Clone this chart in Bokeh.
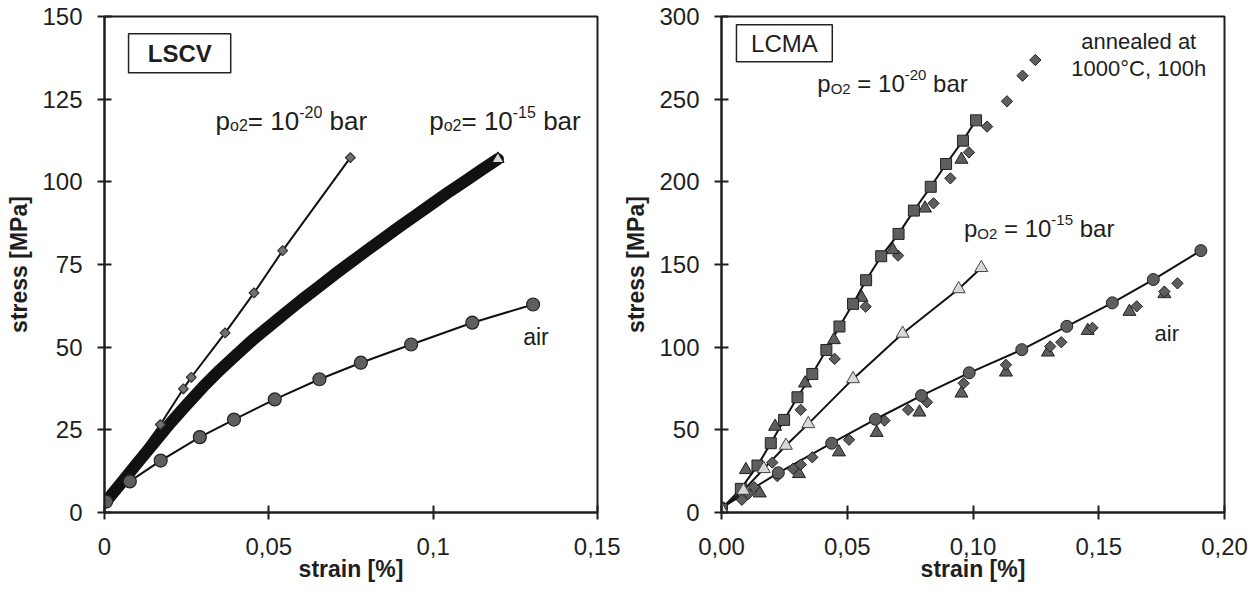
import math
from bokeh.plotting import figure
from bokeh.layouts import row
from bokeh.models import Range1d, FixedTicker, Label, BoxAnnotation
from bokeh.embed import file_html
from bokeh.resources import INLINE

FONT = "Liberation Sans"
TXT = "#1e1e1e"
DARK = "#5e5e5e"
LIGHT = "#d8d8d8"
BASE_FIX = 7  # screen px raise for alphabetic-baseline labels

# ---------------- LSCV (left) ----------------
lscv_x_ticks = [0, 0.05, 0.1, 0.15]
lscv_x_labels = ["0", "0,05", "0,1", "0,15"]
lscv_y_ticks = [0, 25, 50, 75, 100, 125, 150]

lscv_p20_strain = [0.0, 0.017, 0.024, 0.0264, 0.0367, 0.0455, 0.0542, 0.0748]
lscv_p20_stress = [3.0, 26.6, 37.4, 40.9, 54.3, 66.4, 79.2, 107.3]

lscv_p15_strain = [0.0003, 0.005, 0.01, 0.015, 0.02, 0.025, 0.03, 0.035, 0.04, 0.045,
                   0.05, 0.055, 0.06, 0.065, 0.07, 0.075, 0.08, 0.085, 0.09, 0.095,
                   0.1, 0.105, 0.11, 0.115, 0.1197]
lscv_p15_stress = [3.1, 8.8, 15.0, 21.0, 27.0, 32.6, 38.0, 43.0, 47.6, 52.1,
                   56.2, 60.3, 64.3, 68.1, 72.0, 75.7, 79.4, 83.0, 86.6, 90.1,
                   93.6, 97.1, 100.4, 103.8, 106.9]

lscv_air_strain = [0.0005, 0.0077, 0.0171, 0.029, 0.0394, 0.0518, 0.0654, 0.078, 0.0933, 0.1119, 0.1304]
lscv_air_stress = [3.3, 9.4, 15.7, 22.8, 28.1, 34.2, 40.3, 45.3, 50.8, 57.4, 62.9]

# ---------------- LCMA (right) ----------------
lcma_x_ticks = [0, 0.05, 0.1, 0.15, 0.2]
lcma_x_labels = ["0,00", "0,05", "0,10", "0,15", "0,20"]
lcma_y_ticks = [0, 50, 100, 150, 200, 250, 300]

lcma_p20_sq_strain = [0.0, 0.0077, 0.0143, 0.0196, 0.0249, 0.0302, 0.0361, 0.0417, 0.0469,
                      0.0523, 0.0575, 0.0635, 0.0704, 0.0765, 0.0832, 0.0893, 0.096, 0.1012]
lcma_p20_sq_stress = [2.2, 14.3, 28.4, 41.9, 56.0, 69.7, 83.8, 98.3, 112.5,
                      126.2, 140.5, 155.0, 168.5, 182.6, 197.0, 210.8, 224.9, 237.2]

lcma_p20_tri_strain = [0.0, 0.0097, 0.0213, 0.0332, 0.0447, 0.0557, 0.0681, 0.0809, 0.0954]
lcma_p20_tri_stress = [2.0, 25.8, 52.0, 78.2, 104.4, 130.0, 158.8, 184.0, 213.5]

lcma_p20_dia_strain = [0.0, 0.0081, 0.013, 0.0202, 0.0315, 0.045, 0.0573, 0.0702, 0.0843,
                       0.091, 0.0984, 0.1056, 0.1135, 0.1197, 0.1248]
lcma_p20_dia_stress = [2.0, 7.7, 15.3, 30.2, 62.1, 92.9, 124.5, 155.4, 187.0,
                       202.1, 217.8, 233.4, 248.7, 264.2, 273.7]

lcma_p15_strain = [0.0, 0.0087, 0.0168, 0.0256, 0.0345, 0.0523, 0.072, 0.0943, 0.1033]
lcma_p15_stress = [2.0, 13.3, 26.4, 40.5, 53.6, 80.8, 108.3, 135.2, 148.0]

lcma_air_circ_strain = [0.0, 0.0226, 0.0438, 0.0612, 0.0795, 0.0985, 0.1194, 0.1373, 0.1554, 0.1717, 0.1906]
lcma_air_circ_stress = [2.8, 24.0, 41.9, 56.4, 70.7, 84.5, 98.5, 112.6, 126.8, 140.9, 158.4]

lcma_air_dia_strain = [0.0, 0.0107, 0.0222, 0.0284, 0.0315, 0.0361, 0.0507, 0.0648, 0.0742, 0.0817,
                       0.0963, 0.1131, 0.1307, 0.1351, 0.1475, 0.1651, 0.1761, 0.1813]
lcma_air_dia_stress = [2.0, 11.3, 22.0, 26.4, 29.0, 33.4, 44.0, 55.6, 62.1, 66.7,
                       78.2, 89.3, 100.4, 103.0, 111.7, 124.7, 133.6, 138.6]

lcma_air_tri_strain = [0.0, 0.0152, 0.0308, 0.0467, 0.0617, 0.0787, 0.0954, 0.1131, 0.1298, 0.1456, 0.1622, 0.1761]
lcma_air_tri_stress = [2.0, 11.7, 23.4, 36.5, 48.3, 60.6, 72.1, 84.8, 96.9, 110.0, 121.5, 132.2]

# Arial / Liberation Sans advance widths (per 1000 em)
W = {' ': 278, 'p': 556, 'o': 556, 'O': 778, '2': 556, '=': 584, '1': 556, '0': 556,
     '-': 333, '5': 556, 'b': 556, 'a': 556, 'r': 333}


def tw(s, size):
    return sum(W.get(c, 556) for c in s) * size / 1000.0


def text_label(fig, x, y, text, size, align="left", style="normal"):
    fig.add_layout(Label(x=x, y=y, y_offset=BASE_FIX, text=text, text_font=FONT,
                         text_font_size=f"{size}px", text_font_style=style, text_color=TXT,
                         text_align=align, text_baseline="alphabetic"))


def rich_label(fig, x, y, pieces, main, small, sub_drop=5, sup_rise=9):
    dx = 0.0
    for text, kind in pieces:
        size = main if kind == "n" else small
        dy = 0 if kind == "n" else (-sub_drop if kind == "sub" else sup_rise)
        stripped = text.lstrip()
        lead = tw(text[:len(text) - len(stripped)], size)
        fig.add_layout(Label(x=x, y=y, x_offset=dx + lead, y_offset=dy + BASE_FIX, text=stripped,
                             text_font=FONT, text_font_size=f"{size}px", text_color=TXT,
                             text_baseline="alphabetic", text_align="left"))
        dx += tw(text, size)


def base_fig(xr, yr, xticks, xlabels, yticks, fw, fh, ml, mr):
    p = figure(output_backend="svg", toolbar_location=None,
               x_range=Range1d(*xr), y_range=Range1d(*yr),
               frame_width=fw, frame_height=fh,
               min_border_left=ml, min_border_right=mr, min_border_top=16, min_border_bottom=80)
    p.xgrid.visible = False
    p.ygrid.visible = False
    p.background_fill_color = "white"
    p.border_fill_color = "white"
    p.outline_line_color = "#1e1e1e"
    p.outline_line_width = 2
    for ax in (p.xaxis[0], p.yaxis[0]):
        ax.axis_line_width = 2
        ax.axis_line_color = "#1e1e1e"
        ax.major_tick_line_width = 2
        ax.major_tick_line_color = "#1e1e1e"
        ax.major_tick_in = 7
        ax.major_tick_out = 7
        ax.minor_tick_line_color = None
        ax.major_label_text_font = FONT
        ax.major_label_text_font_size = "24px"
        ax.major_label_text_color = TXT
        ax.axis_label_text_font = FONT
        ax.axis_label_text_font_size = "23px"
        ax.axis_label_text_font_style = "bold"
        ax.axis_label_text_color = TXT
    p.xaxis[0].ticker = FixedTicker(ticks=xticks)
    p.xaxis[0].major_label_overrides = {t: l for t, l in zip(xticks, xlabels)}
    p.yaxis[0].ticker = FixedTicker(ticks=yticks)
    p.xaxis[0].axis_label = "strain [%]"
    p.yaxis[0].axis_label = "stress [MPa]"
    p.xaxis[0].major_label_standoff = 18
    p.xaxis[0].axis_label_standoff = -2
    p.yaxis[0].major_label_standoff = 15
    p.yaxis[0].axis_label_standoff = 7
    return p


def box(fig, left, right, bottom, top):
    fig.add_layout(BoxAnnotation(left=left, right=right, bottom=bottom, top=top,
                                 fill_color="white", fill_alpha=1.0,
                                 line_color="#222222", line_width=1.5, line_alpha=1.0))


# ---------------- left figure ----------------
p1 = base_fig((0, 0.15), (0, 150), lscv_x_ticks, lscv_x_labels, lscv_y_ticks, 493, 496, 104, 23)

p1.line(lscv_p15_strain, lscv_p15_stress, line_width=12, line_color="#111111",
        line_join="round", line_cap="round")
p1.scatter(lscv_p15_strain[-1:], lscv_p15_stress[-1:], marker="triangle", size=12,
           fill_color=LIGHT, line_color="#111111", line_width=1.2)

p1.line(lscv_p20_strain, lscv_p20_stress, line_width=2, line_color="#111111")
p1.scatter(lscv_p20_strain, lscv_p20_stress, marker="square", angle=math.pi / 4, size=7,
           fill_color="#707070", line_color="#333333", line_width=1.2)

p1.line(lscv_air_strain, lscv_air_stress, line_width=2, line_color="#111111")
p1.scatter(lscv_air_strain, lscv_air_stress, marker="circle", size=13,
           fill_color=DARK, line_color="#222222", line_width=1.2)

box(p1, 0.00732, 0.0384, 133.0, 144.8)
p1.add_layout(Label(x=0.0229, y=138.9, text="LSCV", text_font=FONT, text_font_size="24px",
                    text_font_style="bold", text_color=TXT, text_align="center",
                    text_baseline="middle"))
rich_label(p1, 0.0338, 116.4, [("p", "n"), ("o2", "sub"), ("= 10", "n"), ("-20", "sup"), (" bar", "n")], 26, 16)
rich_label(p1, 0.0988, 116.4, [("p", "n"), ("o2", "sub"), ("= 10", "n"), ("-15", "sup"), (" bar", "n")], 26, 16)
text_label(p1, 0.1274, 51.1, "air", 23)

# ---------------- right figure ----------------
p2 = base_fig((0, 0.2), (0, 300), lcma_x_ticks, lcma_x_labels, lcma_y_ticks, 503, 496, 99, 28)

p2.line(lcma_p20_sq_strain, lcma_p20_sq_stress, line_width=2, line_color="#111111")
p2.line(lcma_p15_strain, lcma_p15_stress, line_width=2, line_color="#111111")
p2.line(lcma_air_circ_strain, lcma_air_circ_stress, line_width=2, line_color="#111111")

p2.scatter(lcma_air_tri_strain, lcma_air_tri_stress, marker="triangle", size=13,
           fill_color=DARK, line_color="#222222", line_width=1)
p2.scatter(lcma_air_dia_strain, lcma_air_dia_stress, marker="square", angle=math.pi / 4, size=8,
           fill_color=DARK, line_color="#222222", line_width=1)
p2.scatter(lcma_air_circ_strain, lcma_air_circ_stress, marker="circle", size=12,
           fill_color=DARK, line_color="#222222", line_width=1)

p2.scatter(lcma_p20_dia_strain, lcma_p20_dia_stress, marker="square", angle=math.pi / 4, size=8,
           fill_color=DARK, line_color="#222222", line_width=1)
p2.scatter(lcma_p20_tri_strain, lcma_p20_tri_stress, marker="triangle", size=13,
           fill_color=DARK, line_color="#222222", line_width=1)
p2.scatter(lcma_p20_sq_strain, lcma_p20_sq_stress, marker="square", size=11,
           fill_color=DARK, line_color="#222222", line_width=1)

p2.scatter(lcma_p15_strain, lcma_p15_stress, marker="triangle", size=13,
           fill_color=LIGHT, line_color="#444444", line_width=1)

box(p2, 0.00595, 0.04405, 272.7, 295.0)
p2.add_layout(Label(x=0.025, y=283.9, text="LCMA", text_font=FONT, text_font_size="24px",
                    text_color=TXT, text_align="center", text_baseline="middle"))
rich_label(p2, 0.0381, 255.1, [("p", "n"), ("O2", "sub"), (" = 10", "n"), ("-20", "sup"), (" bar", "n")], 24, 15)
rich_label(p2, 0.0964, 167.5, [("p", "n"), ("O2", "sub"), (" = 10", "n"), ("-15", "sup"), (" bar", "n")], 24, 15)
text_label(p2, 0.1722, 104.0, "air", 22)
text_label(p2, 0.1659, 280.5, "annealed at", 22, align="center")
text_label(p2, 0.1659, 264.2, "1000°C, 100h", 22, align="center")

layout = row(p1, p2)
open("out.html", "w").write(file_html(layout, INLINE))
